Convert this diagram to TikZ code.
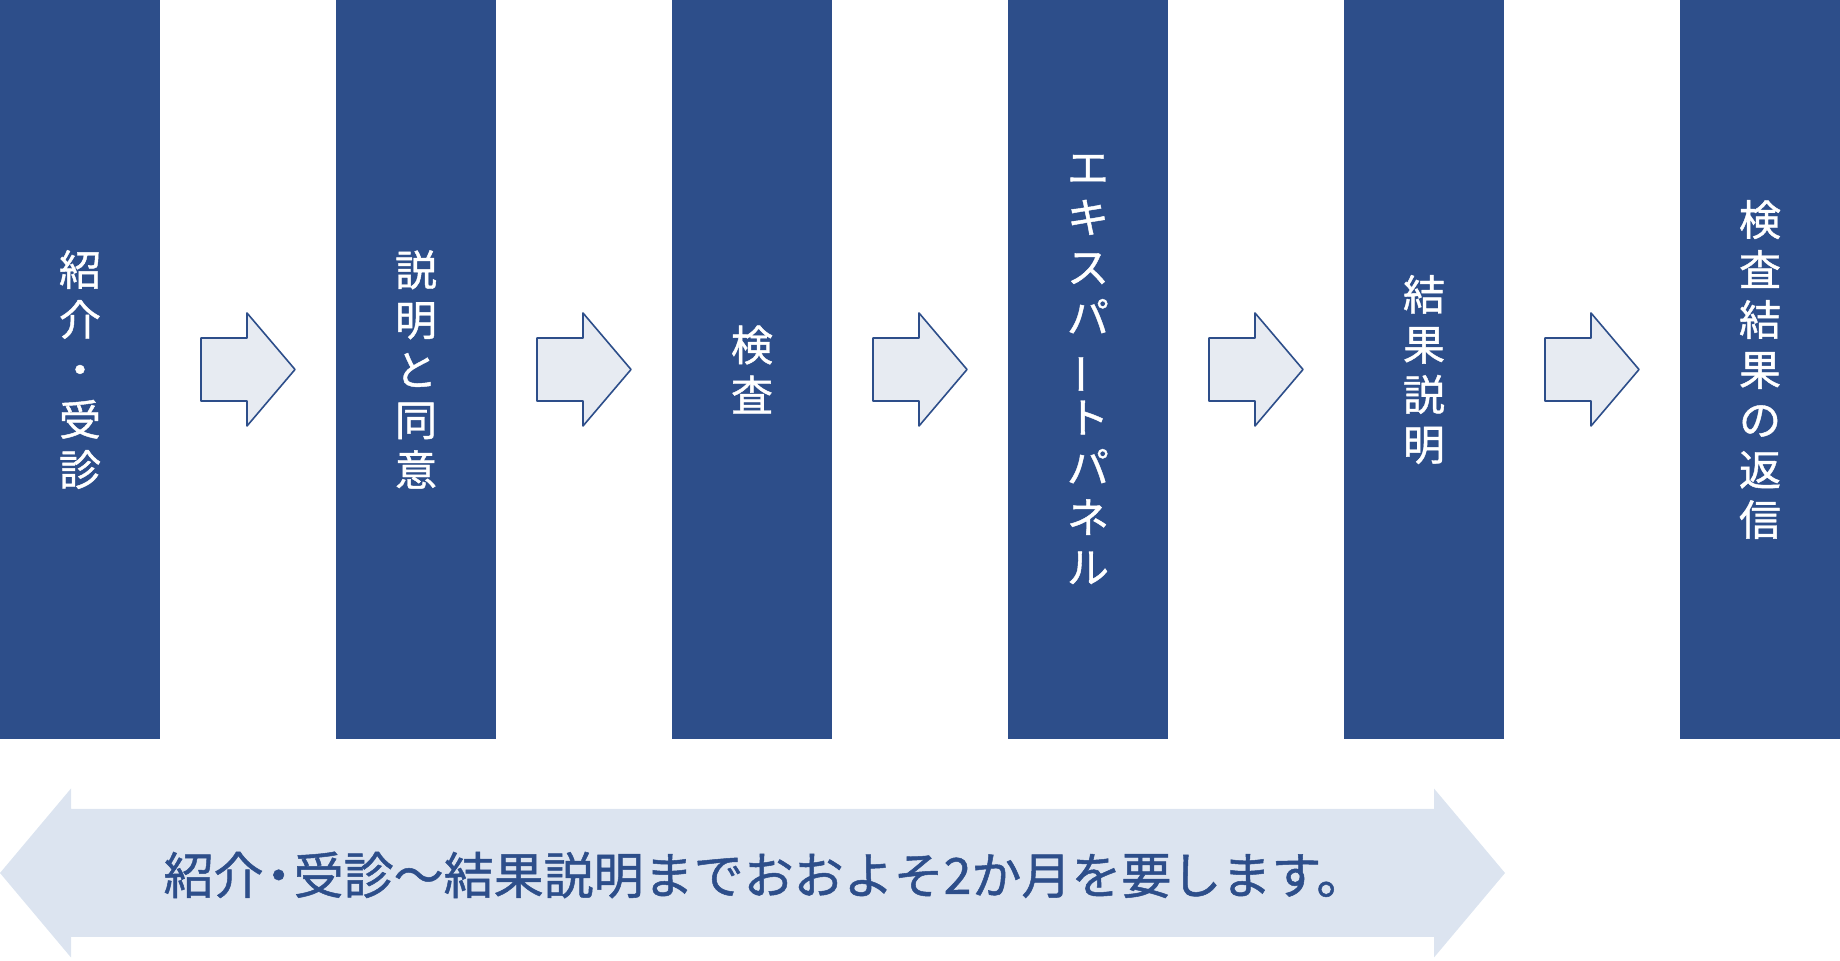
\documentclass[tikz,border=0pt]{standalone}
\usepackage{fontspec}
\setmainfont{Noto Sans CJK JP}
\newfontfamily\jpmedium{Noto Sans CJK JP}[FakeBold=1]
\usepackage{graphicx}
\usepackage{xcolor}
\usepackage{tikz}
\usetikzlibrary{calc}
\usetikzlibrary{positioning}
\definecolor{barblue}{HTML}{2D4E8A}
\definecolor{stepfill}{HTML}{E7EBF2}
\definecolor{spanfill}{HTML}{DCE4F0}
\tikzstyle{bar} = [rectangle, fill=barblue, minimum width=160pt, minimum height=739pt, inner sep=0pt, outer sep=0pt, text=white, align=center, font=\jpmedium\fontsize{42}{50}\selectfont]
\tikzstyle{steparrow} = [draw=barblue, fill=stepfill, line width=1.6pt, line join=round]
\tikzstyle{span} = [fill=spanfill]
\tikzstyle{spantext} = [text=barblue, inner sep=0pt, font=\jpmedium\fontsize{50}{60}\selectfont]

\begin{document}
\begin{tikzpicture}[x=1pt,y=1pt]
\useasboundingbox (0,0) rectangle (1840,961);
\node[bar] (b1) at (80,591.5) {紹\\介\\・\\受\\診};
\node[bar, right=176pt of b1] (b2) {説\\明\\と\\同\\意};
\node[bar, right=176pt of b2] (b3) {検\\査};
\node[bar, right=176pt of b3] (b4) {エ\\キ\\ス\\パ\\\rotatebox[origin=c]{90}{ー}\\ト\\パ\\ネ\\ル};
\node[bar, right=176pt of b4] (b5) {結\\果\\説\\明};
\node[bar, right=176pt of b5] (b6) {検\\査\\結\\果\\の\\返\\信};
\foreach \a/\b in {b1/b2,b2/b3,b3/b4,b4/b5,b5/b6}
  \draw[steparrow] ($(\a.east)!0.5!(\b.west)$) ++(-47,-31.5) -- ++(46,0) -- ++(0,-25)
    -- ++(48,56.5) -- ++(-48,56.5) -- ++(0,-25) -- ++(-46,0) -- cycle;
\fill[span] (0,88) -- (71,172.5) -- (71,152) -- (1434,152) -- (1434,172.5) -- (1505,88)
  -- (1434,3.5) -- (1434,24) -- (71,24) -- (71,3.5) -- cycle;
\node[spantext] (note) at (765,86) {紹介\kern-0.2em・\kern-0.2em 受診〜結果説明までおおよそ2か月を要します。};
\end{tikzpicture}
\end{document}
